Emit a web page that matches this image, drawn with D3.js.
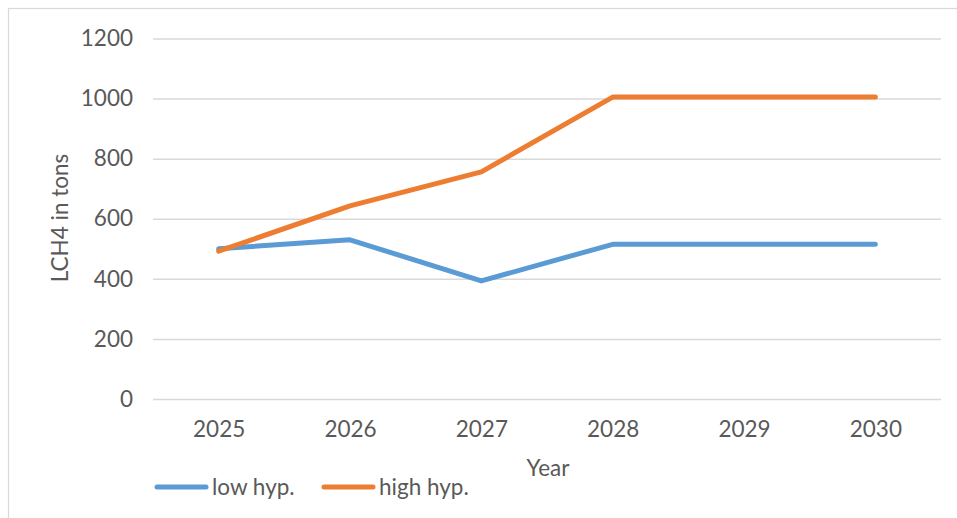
<!DOCTYPE html>
<html><head><meta charset="utf-8">
<script src="https://cdn.jsdelivr.net/npm/d3@7"></script>
<style>body{margin:0;background:#fff;}svg{display:block;}</style>
</head><body>
<svg id="chart" width="957" height="518"></svg>
<script>
const years = ["2025","2026","2027","2028","2029","2030"];
const lowHyp = [500, 530, 393, 515, 515, 515];
const highHyp = [492, 643, 756, 1005, 1005, 1005];
const yTicks = [0, 200, 400, 600, 800, 1000, 1200];
const seriesNames = ["low hyp.", "high hyp."];
const colors = ["#5B9BD5", "#ED7D31"];

const svg = d3.select("#chart");
const font = "Lato, 'Open Sans', sans-serif";
const textColor = "#595959";
const fs = 22.5;

// chart border
svg.append("rect").attr("x", 8.5).attr("y", 8.5).attr("width", 960).attr("height", 520)
  .attr("fill", "none").attr("stroke", "#D9D9D9").attr("stroke-width", 1.2);

const plotLeft = 153, plotRight = 941, plotTop = 38.5, plotBottom = 399;
const x = d3.scalePoint().domain(years).range([plotLeft, plotRight]).padding(0.5);
const y = d3.scaleLinear().domain([0, 1200]).range([plotBottom, plotTop]);

// gridlines
const yAxis = d3.axisLeft(y).tickValues(yTicks).tickFormat(d3.format("d"))
  .tickSize(-(plotRight - plotLeft)).tickPadding(20);
const gy = svg.append("g").attr("transform", `translate(${plotLeft},0)`).call(yAxis);
gy.select(".domain").remove();
gy.selectAll(".tick line").attr("stroke", "#D9D9D9").attr("stroke-width", 1.5);
gy.selectAll(".tick text").attr("font-family", font).attr("font-size", fs).attr("fill", textColor);

const xAxis = d3.axisBottom(x).tickSize(0).tickPadding(22);
const gx = svg.append("g").attr("transform", `translate(0,${plotBottom})`).call(xAxis);
gx.select(".domain").remove();
gx.selectAll(".tick text").attr("font-family", font).attr("font-size", fs).attr("fill", textColor);

// lines
const line = d3.line().x((d, i) => x(years[i])).y(d => y(d));
[lowHyp, highHyp].forEach((s, k) => {
  svg.append("path").datum(s).attr("d", line).attr("fill", "none")
    .attr("stroke", colors[k]).attr("stroke-width", 5)
    .attr("stroke-linejoin", "round").attr("stroke-linecap", "round");
});

// axis titles
svg.append("text").attr("transform", "translate(68,218) rotate(-90)")
  .attr("text-anchor", "middle").attr("font-family", font).attr("font-size", fs)
  .attr("fill", textColor).text("LCH4 in tons");
svg.append("text").attr("x", 548).attr("y", 476)
  .attr("text-anchor", "middle").attr("font-family", font).attr("font-size", fs)
  .attr("fill", textColor).text("Year");

// legend
const legendX = [155, 322];
seriesNames.forEach((n, k) => {
  svg.append("line").attr("x1", legendX[k] + 2).attr("x2", legendX[k] + 51)
    .attr("y1", 487).attr("y2", 487).attr("stroke", colors[k]).attr("stroke-width", 5)
    .attr("stroke-linecap", "round");
  svg.append("text").attr("x", legendX[k] + 57).attr("y", 495)
    .attr("font-family", font).attr("font-size", fs).attr("fill", textColor).text(n);
});
</script>
</body></html>
